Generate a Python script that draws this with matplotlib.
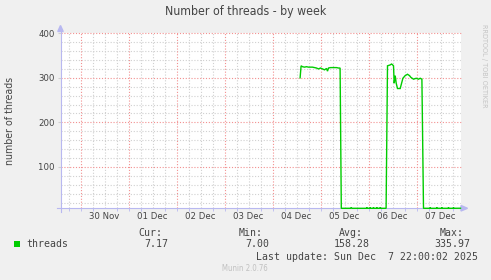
import numpy as np
import matplotlib
matplotlib.use("Agg")
import matplotlib.pyplot as plt
from matplotlib.lines import Line2D
from matplotlib.patches import Polygon, Rectangle

# ---- data (hours since Sat Nov 29 00:00) ----
hours = [133.8, 134.3, 135, 136, 137, 138, 139, 140, 141, 142, 143, 144, 145, 146,
         147, 147.5, 148, 149, 150, 151, 152, 153, 153.8, 154.4,
         159.0, 159.35, 159.7, 166.9, 167.2, 167.5, 168.6, 168.85, 169.1,
         170.2, 170.5, 170.8, 171.9, 172.2, 172.5, 173.6, 173.85, 174.1, 176.8,
         177.5, 178.85, 179.5, 179.85, 180.5, 180.85, 181.35, 181.85, 182.5, 183.85,
         185.2, 186.35, 187.5, 188.5, 189.2, 190.5, 191.85, 193.0, 193.85, 194.7,
         195.5,
         198.6, 198.85, 199.1, 201.9, 202.2, 202.5, 204.4, 204.7, 205.0,
         207.7, 208.0, 208.3, 210.2, 210.5, 210.8, 214.0]
values = [300, 327, 325, 324, 325, 324, 324, 324, 323, 322, 320, 322, 320, 318,
          321, 315, 322, 323, 323, 323, 323, 322, 322, 7,
          7, 9, 7, 7, 9, 7, 7, 9, 7,
          7, 9, 7, 7, 9, 7, 7, 9, 7, 7,
          327, 329, 331, 330, 327, 288, 305, 288, 276, 276,
          299, 305, 308, 305, 301, 297, 299, 297, 299, 297,
          7,
          7, 9, 7, 7, 9, 7, 7, 9, 7,
          7, 9, 7, 7, 9, 7, 7.17]
day_label_hours = [36, 60, 84, 108, 132, 156, 180, 204]
day_labels = ["30 Nov", "01 Dec", "02 Dec", "03 Dec", "04 Dec", "05 Dec", "06 Dec", "07 Dec"]
y_ticks = [100, 200, 300, 400]
stat_names = ["Cur:", "Min:", "Avg:", "Max:"]
stat_values = ["7.17", "7.00", "158.28", "335.97"]
series_name = "threads"

W, H = 491, 280
BG = "#F0F0F0"
AXC = "#B8B8F0"
TXT = "#444444"
SANS = ["DejaVu Sans"]
MONO = "DejaVu Sans Mono"
MINOR = "#D0D0D0"
MAJOR = "#F29090"
DOT = (0, (1, 1.6))

def fx(x):
    return x / W

def fy(y):
    return 1 - y / H

fig = plt.figure(figsize=(W / 100, H / 100), dpi=100, facecolor=BG)
left, right, top, bottom = 60.5, 460.5, 33.3, 208.3
ax = fig.add_axes([fx(left), fy(bottom), (right - left) / W, (bottom - top) / H])
ax.set_facecolor("white")
for s in ax.spines.values():
    s.set_visible(False)
ax.set_xlim(14, 214)
ax.set_ylim(7, 400)

# grid
for h in range(18, 214, 6):
    if h % 24 == 0:
        continue
    ax.axvline(h, color=MINOR, lw=0.8, ls=DOT, zorder=1)
for v in range(20, 400, 20):
    if v % 100 == 0:
        continue
    ax.axhline(v, color=MINOR, lw=0.8, ls=DOT, zorder=1)
for h in range(24, 214, 24):
    ax.axvline(h, color=MAJOR, lw=0.8, ls=DOT, zorder=1.2)
for v in y_ticks:
    ax.axhline(v, color=MAJOR, lw=0.8, ls=DOT, zorder=1.2, clip_on=False)

ax.set_xticks(day_label_hours)
ax.set_xticklabels(day_labels, fontsize=6.8, color=TXT, family=SANS, fontstretch="condensed")
ax.set_yticks(y_ticks)
ax.set_yticklabels([str(v) for v in y_ticks], fontsize=6.8, color=TXT, family=SANS, fontstretch="condensed")
ax.tick_params(axis="x", length=0, pad=3)
ax.tick_params(axis="y", length=2, color=MINOR, pad=2)
ax.set_xticks(list(range(18, 214, 6)), minor=True)
ax.tick_params(axis="x", which="minor", length=2, color=AXC, width=0.6)

# axis lines + arrows (figure pixel coords)
ax.add_line(Line2D([fx(57), fx(463)], [fy(bottom), fy(bottom)], transform=fig.transFigure,
                   color=AXC, lw=0.8, clip_on=False, zorder=2))
ax.add_line(Line2D([fx(left), fx(left)], [fy(211.5), fy(29)], transform=fig.transFigure,
                   color=AXC, lw=0.8, clip_on=False, zorder=2))
ax.add_patch(Polygon([(fx(461), fy(205.5)), (fx(467.5), fy(bottom)), (fx(461), fy(211))],
                     closed=True, transform=fig.transFigure, color=AXC, clip_on=False, zorder=2))
ax.add_patch(Polygon([(fx(57.8), fy(31.5)), (fx(left), fy(25.5)), (fx(63.2), fy(31.5))],
                     closed=True, transform=fig.transFigure, color=AXC, clip_on=False, zorder=2))

# data line
ax.plot(hours, values, color="#00CC00", lw=1.0, zorder=3, clip_on=False, solid_joinstyle="miter")

# texts
fig.text(fx(246), fy(11.5), "Number of threads - by week", ha="center", va="center",
         fontsize=8.8, color=TXT, family=SANS, fontstretch="condensed")
fig.text(fx(10), fy(120.5), "number of threads", ha="center", va="center", rotation=90,
         fontsize=7.6, color=TXT, family=SANS, fontstretch="condensed")
fig.text(fx(484), fy(66), "RRDTOOL / TOBI OETIKER", ha="center", va="center", rotation=270,
         fontsize=5.2, color="#C4C4C4", family=SANS, fontstretch="condensed")

head_right = [162, 263, 362.7, 464]
val_right = [168.3, 269.3, 369.3, 470.7]
for name, xr in zip(stat_names, head_right):
    fig.text(fx(xr), fy(232.7), name, ha="right", va="center", fontsize=7.1, family=MONO, color=TXT)
for val, xr in zip(stat_values, val_right):
    fig.text(fx(xr), fy(244.3), val, ha="right", va="center", fontsize=7.1, family=MONO, color=TXT)
fig.patches.append(Rectangle((fx(14), fy(247)), 6 / W, 6 / H, transform=fig.transFigure,
                             facecolor="#00CC00", edgecolor="none", figure=fig))
fig.text(fx(26.7), fy(244.3), series_name, ha="left", va="center", fontsize=7.1, family=MONO, color=TXT)
fig.text(fx(255.7), fy(256.7), "Last update: Sun Dec  7 22:00:02 2025", ha="left", va="center",
         fontsize=7.1, family=MONO, color=TXT)
fig.text(fx(245), fy(268.3), "Munin 2.0.76", ha="center", va="center", fontsize=5.6,
         color="#C0C0C0", family=SANS, fontstretch="condensed")

fig.savefig("out.png", dpi=100, facecolor=BG)
